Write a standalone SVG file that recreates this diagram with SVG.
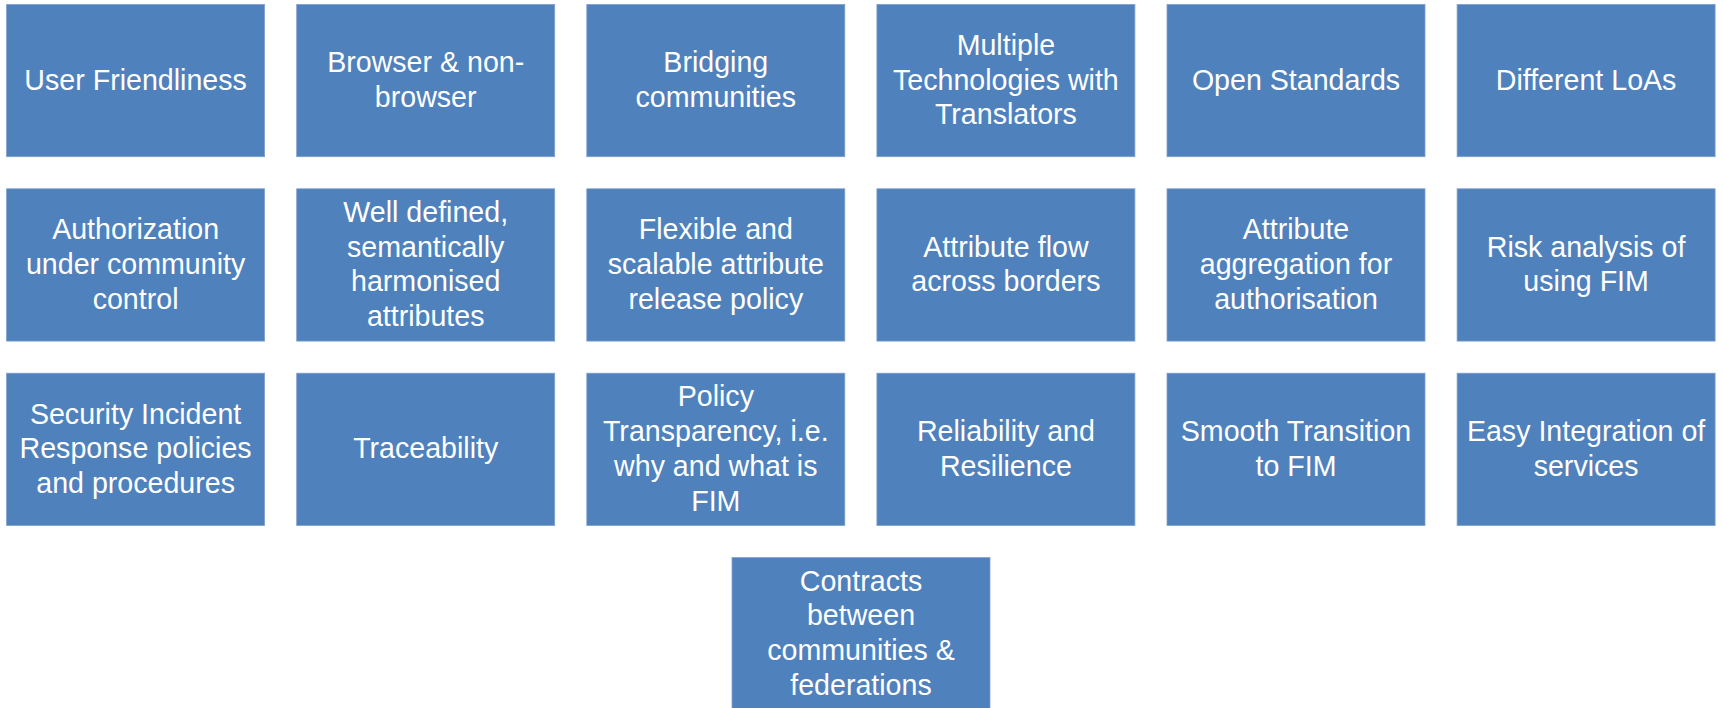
<svg xmlns="http://www.w3.org/2000/svg" width="1723" height="708" viewBox="0 0 1723 708">
<style>
rect.b{fill:#4F81BD;stroke:#7EA1CD;stroke-width:0.8}
text{font-family:"Liberation Sans",Arial,sans-serif;font-size:28.6px;fill:#FFFFFF;text-anchor:middle}
</style>
<rect width="1723" height="708" fill="#FFFFFF"/>
<g id="n1"><rect class="b" x="6.6" y="4.4" width="258" height="152.3"/><text x="135.6" y="89.5">User Friendliness</text></g>
<g id="n2"><rect class="b" x="296.7" y="4.4" width="258" height="152.3"/><text x="425.7" y="72.1">Browser &amp; non-</text><text x="425.7" y="106.9">browser</text></g>
<g id="n3"><rect class="b" x="586.8" y="4.4" width="258" height="152.3"/><text x="715.8" y="72.1">Bridging</text><text x="715.8" y="106.9">communities</text></g>
<g id="n4"><rect class="b" x="876.9" y="4.4" width="258" height="152.3"/><text x="1005.9" y="54.7">Multiple</text><text x="1005.9" y="89.5">Technologies with</text><text x="1005.9" y="124.3">Translators</text></g>
<g id="n5"><rect class="b" x="1167" y="4.4" width="258" height="152.3"/><text x="1296" y="89.5">Open Standards</text></g>
<g id="n6"><rect class="b" x="1457.1" y="4.4" width="258" height="152.3"/><text x="1586.1" y="89.5">Different LoAs</text></g>

<g id="n7"><rect class="b" x="6.6" y="188.8" width="258" height="152.3"/><text x="135.6" y="239.1">Authorization</text><text x="135.6" y="273.9">under community</text><text x="135.6" y="308.7">control</text></g>
<g id="n8"><rect class="b" x="296.7" y="188.8" width="258" height="152.3"/><text x="425.7" y="221.7">Well defined,</text><text x="425.7" y="256.5">semantically</text><text x="425.7" y="291.3">harmonised</text><text x="425.7" y="326.1">attributes</text></g>
<g id="n9"><rect class="b" x="586.8" y="188.8" width="258" height="152.3"/><text x="715.8" y="239.1">Flexible and</text><text x="715.8" y="273.9">scalable attribute</text><text x="715.8" y="308.7">release policy</text></g>
<g id="n10"><rect class="b" x="876.9" y="188.8" width="258" height="152.3"/><text x="1005.9" y="256.5">Attribute flow</text><text x="1005.9" y="291.3">across borders</text></g>
<g id="n11"><rect class="b" x="1167" y="188.8" width="258" height="152.3"/><text x="1296" y="239.1">Attribute</text><text x="1296" y="273.9">aggregation for</text><text x="1296" y="308.7">authorisation</text></g>
<g id="n12"><rect class="b" x="1457.1" y="188.8" width="258" height="152.3"/><text x="1586.1" y="256.5">Risk analysis of</text><text x="1586.1" y="291.3">using FIM</text></g>

<g id="n13"><rect class="b" x="6.6" y="373.2" width="258" height="152.3"/><text x="135.6" y="423.5">Security Incident</text><text x="135.6" y="458.3">Response policies</text><text x="135.6" y="493.1">and procedures</text></g>
<g id="n14"><rect class="b" x="296.7" y="373.2" width="258" height="152.3"/><text x="425.7" y="458.3">Traceability</text></g>
<g id="n15"><rect class="b" x="586.8" y="373.2" width="258" height="152.3"/><text x="715.8" y="406.1">Policy</text><text x="715.8" y="440.9">Transparency, i.e.</text><text x="715.8" y="475.7">why and what is</text><text x="715.8" y="510.5">FIM</text></g>
<g id="n16"><rect class="b" x="876.9" y="373.2" width="258" height="152.3"/><text x="1005.9" y="440.9">Reliability and</text><text x="1005.9" y="475.7">Resilience</text></g>
<g id="n17"><rect class="b" x="1167" y="373.2" width="258" height="152.3"/><text x="1296" y="440.9">Smooth Transition</text><text x="1296" y="475.7">to FIM</text></g>
<g id="n18"><rect class="b" x="1457.1" y="373.2" width="258" height="152.3"/><text x="1586.1" y="440.9">Easy Integration of</text><text x="1586.1" y="475.7">services</text></g>

<g id="n19"><rect class="b" x="732" y="557.6" width="258" height="152.3"/><text x="861" y="590.5">Contracts</text><text x="861" y="625.3">between</text><text x="861" y="660.1">communities &amp;</text><text x="861" y="694.9">federations</text></g>
<g id="connectors"></g>
</svg>
